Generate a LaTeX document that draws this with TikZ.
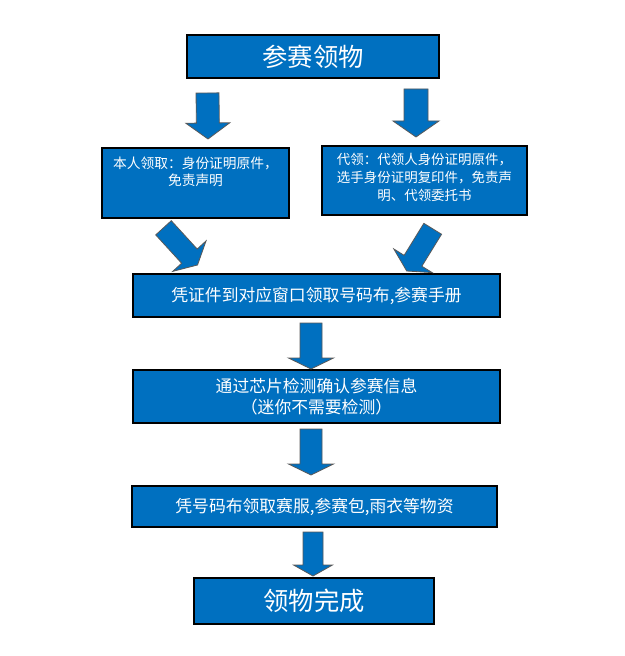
\documentclass[tikz,border=0pt]{standalone}
\usepackage{fontspec}
\newfontfamily\cjk{Noto Sans CJK SC}
\usetikzlibrary{calc}
\definecolor{boxblue}{RGB}{0,112,192}
\newcommand\blkarrow[5]{%
  \path ($(#2)!#5!(#1)$) coordinate (h);
  \filldraw[blockarrow] ($(#1)!#3!90:(#2)$) -- ($(h)!#3!-90:(#1)$) -- ($(h)!#4!-90:(#1)$) -- (#2)
    -- ($(h)!#4!90:(#1)$) -- ($(h)!#3!90:(#1)$) -- ($(#1)!#3!-90:(#2)$) -- cycle;
}
\begin{document}
\begin{tikzpicture}[x=0.75pt,y=-0.75pt,
  stepbox/.style={draw=black,line width=0.9pt,fill=boxblue,text=white,inner sep=0pt,align=center},
  blockarrow/.style={fill=boxblue,draw=black!65,line width=0.6pt,line join=miter}]
\useasboundingbox (0,0) rectangle (624,656);
\fill[white] (0,0) rectangle (624,656);
% boxes
\node[stepbox,minimum width=189pt,minimum height=32.25pt,font=\cjk\fontsize{19}{22}\selectfont] (top) at (313,56.5) {参赛领物};
\node[stepbox,minimum width=140.25pt,minimum height=52.5pt,font=\cjk\fontsize{10.3}{13.3}\selectfont] (self) at (195.5,183)
  {\parbox[c][52.5pt][t]{138pt}{\centering\vspace*{6.5pt}本人领取：身份证明原件，\\免责声明}};
\node[stepbox,minimum width=153.75pt,minimum height=51.75pt,font=\cjk\fontsize{10.1}{13.7}\selectfont] (proxy) at (424.5,180.5)
  {\parbox[c][51.75pt][t]{152pt}{\centering\vspace*{5pt}代领：代领人身份证明原件，\\选手身份证明复印件，免责声\\明、代领委托书}};
\node[stepbox,minimum width=275.25pt,minimum height=32.25pt,font=\cjk\fontsize{12.6}{15}\selectfont] (window) at (316.5,295.5)
  {\raisebox{-1.5pt}{凭证件到对应窗口领取号码布,参赛手册}};
\node[stepbox,minimum width=275.25pt,minimum height=39.75pt,font=\cjk\fontsize{12.6}{15.5}\selectfont] (chip) at (316.5,396.5)
  {通过芯片检测确认参赛信息\\（迷你不需要检测）};
\node[stepbox,minimum width=273.75pt,minimum height=30.75pt,font=\cjk\fontsize{12.6}{15}\selectfont] (kit) at (314.5,506.5)
  {\raisebox{-1.5pt}{凭号码布领取赛服,参赛包,雨衣等物资}};
\node[stepbox,minimum width=180pt,minimum height=34.5pt,font=\cjk\fontsize{19}{22}\selectfont] (done) at (314,601) {领物完成};
% arrow end points
\coordinate (a1s) at (207.5,93);   \coordinate (a1t) at (208,139);
\coordinate (a2s) at (416,89);     \coordinate (a2t) at (416,137);
\coordinate (a3s) at (163.5,227.8); \coordinate (a3t) at (197.5,265);
\coordinate (a4s) at (432.7,228.8); \coordinate (a4t) at (406.7,271);
\coordinate (a5s) at (311,323);    \coordinate (a5t) at (311,369);
\coordinate (a6s) at (311,429);    \coordinate (a6t) at (311,475);
\coordinate (a7s) at (313,532);    \coordinate (a7t) at (313,576);
% block arrows
\blkarrow{a1s}{a1t}{8.6pt}{16.5pt}{12pt}
\blkarrow{a2s}{a2t}{9pt}{17.25pt}{12pt}
\blkarrow{a3s}{a3t}{7.9pt}{16.9pt}{9pt}
\blkarrow{a4s}{a4t}{7.8pt}{16.9pt}{9pt}
\blkarrow{a5s}{a5t}{8.25pt}{16.9pt}{8.25pt}
\blkarrow{a6s}{a6t}{8.25pt}{16.9pt}{8.25pt}
\blkarrow{a7s}{a7t}{7.5pt}{14.6pt}{8.25pt}
\end{tikzpicture}
\end{document}
